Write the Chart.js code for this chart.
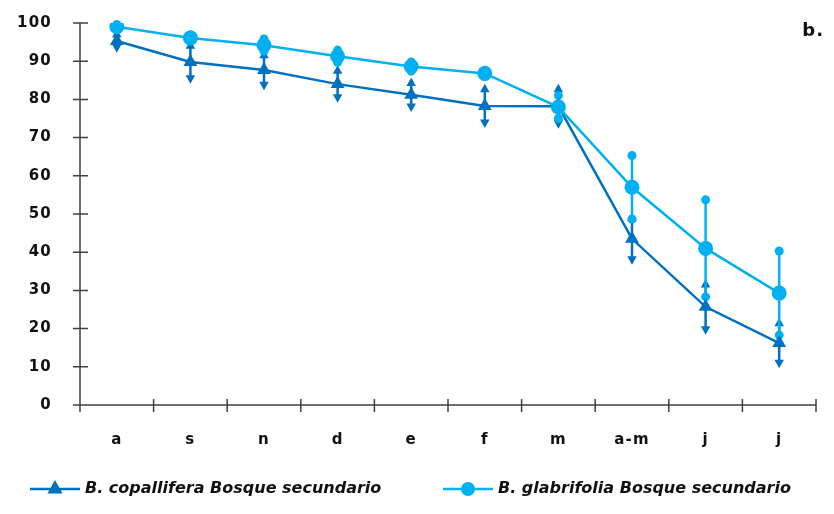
<!DOCTYPE html>
<html>
<head>
<meta charset="utf-8">
<script src="https://cdn.jsdelivr.net/npm/chart.js@4/dist/chart.umd.min.js"></script>
<style>
  html, body { margin: 0; padding: 0; background: #fff; }
  #wrap { width: 834px; height: 514px; position: relative; }
</style>
</head>
<body>
<div id="wrap"><canvas id="c" width="834" height="514"></canvas></div>
<script>
// Months of the sampling period
const months = ['a', 's', 'n', 'd', 'e', 'f', 'm', 'a-m', 'j', 'j'];
// Mean values and symmetric errors for each species
const copallifera = [95.3, 89.8, 87.7, 84.0, 81.2, 78.3, 78.2, 43.5, 25.7, 16.2];
const copalliferaErr = [1.8, 4.4, 4.0, 3.6, 3.2, 4.5, 4.6, 5.5, 6.0, 5.3];
const glabrifolia = [99.0, 96.1, 94.2, 91.3, 88.6, 86.8, 78.0, 57.0, 41.0, 29.3];
const glabrifoliaErr = [0.6, 0.8, 1.6, 1.6, 1.2, 0.8, 3.0, 8.3, 12.7, 11.0];
const yTicks = [0, 10, 20, 30, 40, 50, 60, 70, 80, 90, 100];

const DARK = '#0070C0';
const LIGHT = '#00B0F0';
const FONT = '"DejaVu Sans", sans-serif';

function triangle(ctx, x, y, r, down) {
  ctx.beginPath();
  const s = down ? -1 : 1;
  ctx.moveTo(x, y - s * r);
  ctx.lineTo(x + r * 0.95, y + s * r * 0.7);
  ctx.lineTo(x - r * 0.95, y + s * r * 0.7);
  ctx.closePath();
  ctx.fill();
}

// Wider letter spacing for the axis labels
const spacing = {
  id: 'spacing',
  beforeDraw(chart) { chart.ctx.letterSpacing = '1.2px'; }
};

// Error bars with marker caps, drawn under the series markers
const errorBars = {
  id: 'errorBars',
  beforeDatasetsDraw(chart) {
    const { ctx, scales: { x, y } } = chart;
    const sets = [
      { vals: copallifera, err: copalliferaErr, color: DARK, cap: 'tri' },
      { vals: glabrifolia, err: glabrifoliaErr, color: LIGHT, cap: 'dot' }
    ];
    ctx.save();
    sets.forEach(s => {
      s.vals.forEach((v, i) => {
        const px = x.getPixelForValue(i);
        const top = y.getPixelForValue(v + s.err[i]);
        const bot = y.getPixelForValue(v - s.err[i]);
        ctx.strokeStyle = s.color;
        ctx.fillStyle = s.color;
        ctx.lineWidth = 2.5;
        ctx.beginPath();
        ctx.moveTo(px, top);
        ctx.lineTo(px, bot);
        ctx.stroke();
        if (s.cap === 'tri') {
          triangle(ctx, px, top, 5, false);
          triangle(ctx, px, bot, 5, true);
        } else {
          ctx.beginPath(); ctx.arc(px, top, 4.5, 0, Math.PI * 2); ctx.fill();
          ctx.beginPath(); ctx.arc(px, bot, 4.5, 0, Math.PI * 2); ctx.fill();
        }
      });
    });
    ctx.restore();
  }
};

// Axis lines with crossing tick marks, panel letter and bottom legend
const decorations = {
  id: 'decorations',
  afterDraw(chart) {
    const { ctx, chartArea: a, scales: { x, y } } = chart;
    ctx.save();
    ctx.strokeStyle = '#404040';
    ctx.lineWidth = 1.5;
    ctx.beginPath();
    ctx.moveTo(a.left, y.getPixelForValue(100));
    ctx.lineTo(a.left, a.bottom);
    ctx.lineTo(a.right, a.bottom);
    yTicks.forEach(t => {
      const py = y.getPixelForValue(t);
      ctx.moveTo(a.left - 7, py);
      ctx.lineTo(a.left + 8, py);
    });
    const step = x.getPixelForValue(1) - x.getPixelForValue(0);
    for (let i = 0; i <= months.length; i++) {
      const px = i < months.length ? x.getPixelForValue(i) - step / 2 : a.right;
      ctx.moveTo(px, a.bottom - 6);
      ctx.lineTo(px, a.bottom + 7);
    }
    ctx.stroke();

    ctx.fillStyle = '#111';
    ctx.letterSpacing = '1px';
    ctx.font = 'bold 18px ' + FONT;
    ctx.textAlign = 'right';
    ctx.textBaseline = 'middle';
    ctx.fillText('b.', 824, 31);

    // legend
    const items = [
      { x0: 30, label: 'B. copallifera Bosque secundario', color: DARK, tri: true },
      { x0: 443, label: 'B. glabrifolia Bosque secundario', color: LIGHT, tri: false }
    ];
    const ly = 489;
    items.forEach(it => {
      ctx.strokeStyle = it.color;
      ctx.fillStyle = it.color;
      ctx.lineWidth = 2.5;
      ctx.beginPath();
      ctx.moveTo(it.x0, ly);
      ctx.lineTo(it.x0 + 50, ly);
      ctx.stroke();
      if (it.tri) triangle(ctx, it.x0 + 25, ly - 1, 8, false);
      else { ctx.beginPath(); ctx.arc(it.x0 + 25, ly, 7, 0, Math.PI * 2); ctx.fill(); }
      ctx.fillStyle = '#111';
      ctx.letterSpacing = '0px';
      ctx.font = 'italic bold 16px ' + FONT;
      ctx.textAlign = 'left';
      ctx.fillText(it.label, it.x0 + 55, ly);
    });
    ctx.restore();
  }
};

new Chart(document.getElementById('c'), {
  type: 'line',
  data: {
    labels: months,
    datasets: [
      {
        label: 'B. glabrifolia Bosque secundario',
        data: glabrifolia,
        borderColor: LIGHT,
        backgroundColor: LIGHT,
        borderWidth: 2.5,
        pointStyle: 'circle',
        pointRadius: 7.5,
        pointBorderWidth: 0,
        tension: 0,
        order: 0
      },
      {
        label: 'B. copallifera Bosque secundario',
        data: copallifera,
        borderColor: DARK,
        backgroundColor: DARK,
        borderWidth: 2.5,
        pointStyle: 'triangle',
        pointRadius: 8,
        pointBorderWidth: 0,
        tension: 0,
        order: 1
      }
    ]
  },
  options: {
    responsive: false,
    animation: false,
    layout: { padding: { left: 0, right: 18, top: 23, bottom: 0 } },
    plugins: { legend: { display: false }, tooltip: { enabled: false } },
    scales: {
      x: {
        offset: true,
        grid: { display: false },
        border: { display: false },
        ticks: { color: '#111', font: { family: FONT, size: 15, weight: 'bold' }, padding: 18 },
        afterFit(s) { s.height = 109; }
      },
      y: {
        min: 0,
        max: 100,
        afterBuildTicks(s) { s.ticks = yTicks.map(v => ({ value: v })); },
        grid: { display: false },
        border: { display: false },
        ticks: { color: '#111', font: { family: FONT, size: 15, weight: 'bold', lineHeight: 0.6 }, padding: 20 },
        afterFit(s) { s.width = 80; s.paddingTop = 0; s.paddingBottom = 0; }
      }
    }
  },
  plugins: [spacing, errorBars, decorations]
});
</script>
</body>
</html>
